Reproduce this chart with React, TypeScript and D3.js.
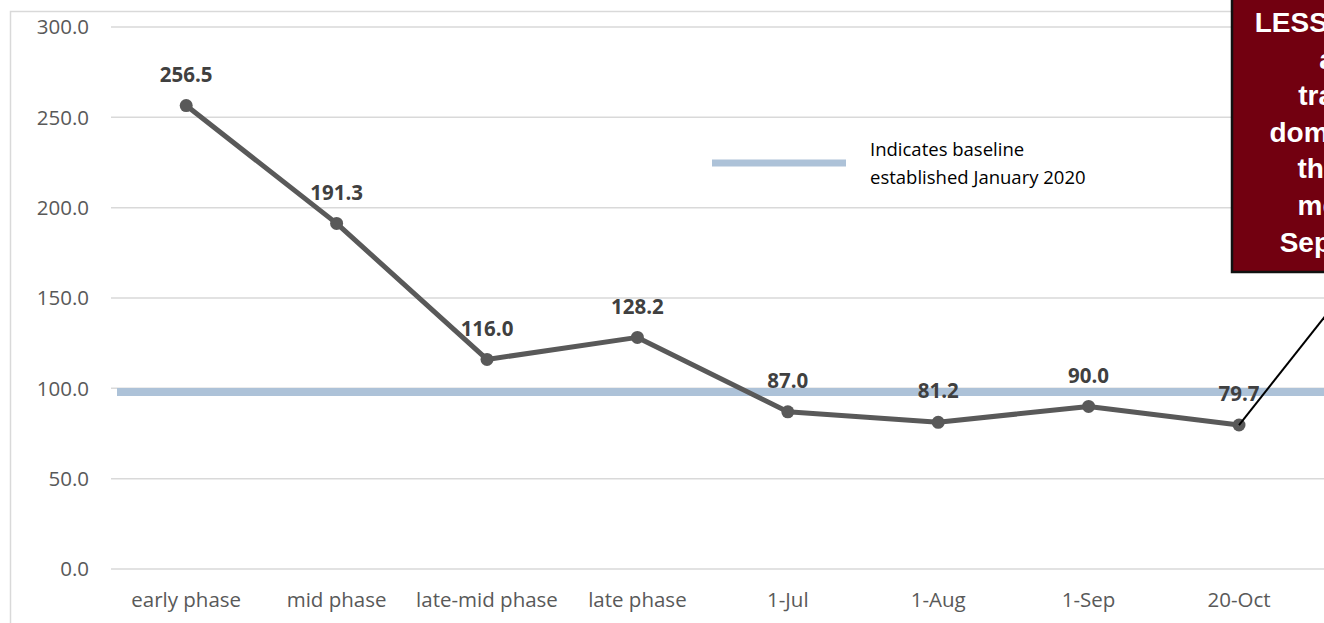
import React from "react";
import * as d3 from "d3";

const categories = [
  "early phase",
  "mid phase",
  "late-mid phase",
  "late phase",
  "1-Jul",
  "1-Aug",
  "1-Sep",
  "20-Oct",
];
const values = [256.5, 191.3, 116.0, 128.2, 87.0, 81.2, 90.0, 79.7];
const yTicks = [0, 50, 100, 150, 200, 250, 300];
const baselineValue = 98;
const legendLines = ["Indicates baseline", "established January 2020"];
const calloutLines = [
  "LESS than 100",
  "a dip",
  "travel in",
  "domestic air",
  "than the",
  "mode of",
  "September",
];

const W = 1324;
const H = 623;
const FONT = "'Open Sans', 'Noto Sans', sans-serif";

const App: React.FC = () => {
  const x = d3
    .scaleBand<string>()
    .domain(categories)
    .range([111, 111 + 8 * 150.4]);
  const y = d3.scaleLinear().domain([0, 300]).range([569, 27]);
  const cx = (c: string) => (x(c) ?? 0) + x.bandwidth() / 2;

  const line = d3
    .line<number>()
    .x((_, i) => cx(categories[i]))
    .y((d) => y(d));

  const lastX = cx(categories[categories.length - 1]);
  const lastY = y(values[values.length - 1]);

  // callout box geometry
  const boxLeft = 1232;
  const boxBottom = 272;
  const boxCenter = 1352;

  return (
    <svg
      width={W}
      height={H}
      viewBox={`0 0 ${W} ${H}`}
      style={{ position: "absolute", left: 0, top: 0, background: "#fff" }}
      fontFamily={FONT}
    >
      {/* chart area border */}
      <rect
        x={10.5}
        y={11.5}
        width={W + 20}
        height={H + 20}
        fill="none"
        stroke="#d9d9d9"
        strokeWidth={1.5}
      />

      {/* gridlines + y labels */}
      {yTicks.map((t) => (
        <g key={t}>
          <line
            x1={111}
            x2={W}
            y1={y(t)}
            y2={y(t)}
            stroke="#d9d9d9"
            strokeWidth={1.5}
          />
          <text
            x={89}
            y={y(t)}
            dy="0.35em"
            textAnchor="end"
            fontSize={20.5}
            fill="#595959"
          >
            {t.toFixed(1)}
          </text>
        </g>
      ))}

      {/* baseline band */}
      <line
        x1={117}
        x2={W}
        y1={y(baselineValue)}
        y2={y(baselineValue)}
        stroke="#adc2d8"
        strokeWidth={8}
      />

      {/* category labels */}
      {categories.map((c) => (
        <text
          key={c}
          x={cx(c)}
          y={600}
          dy="0.35em"
          textAnchor="middle"
          fontSize={20.5}
          fill="#595959"
        >
          {c}
        </text>
      ))}

      {/* legend */}
      <line x1={712} x2={846} y1={163} y2={163} stroke="#adc2d8" strokeWidth={7} />
      {legendLines.map((l, i) => (
        <text key={l} x={870} y={150 + i * 28} dy="0.35em" fontSize={18.5} fill="#000">
          {l}
        </text>
      ))}

      {/* series line */}
      <path
        d={line(values) || ""}
        fill="none"
        stroke="#595959"
        strokeWidth={5}
        strokeLinejoin="round"
      />
      {values.map((v, i) => (
        <circle key={i} cx={cx(categories[i])} cy={y(v)} r={6.5} fill="#595959" />
      ))}
      {values.map((v, i) => (
        <text
          key={"l" + i}
          x={cx(categories[i])}
          y={y(v) - 31}
          dy="0.35em"
          textAnchor="middle"
          fontSize={20.5}
          fontWeight="bold"
          fill="#404040"
        >
          {v.toFixed(1)}
        </text>
      ))}

      {/* callout */}
      <line
        x1={lastX}
        y1={lastY}
        x2={1360}
        y2={boxBottom}
        stroke="#000"
        strokeWidth={2}
      />
      <rect
        x={boxLeft}
        y={-20}
        width={260}
        height={boxBottom + 20}
        fill="#720010"
        stroke="#111"
        strokeWidth={2.5}
      />
      {calloutLines.map((l, i) => (
        <text
          key={l}
          x={boxCenter}
          y={32 + i * 36.6}
          textAnchor="middle"
          fontFamily="'Liberation Sans', Arial, sans-serif"
          fontWeight="bold"
          fontSize={28}
          fill="#fff"
        >
          {l}
        </text>
      ))}
    </svg>
  );
};

export default App;
